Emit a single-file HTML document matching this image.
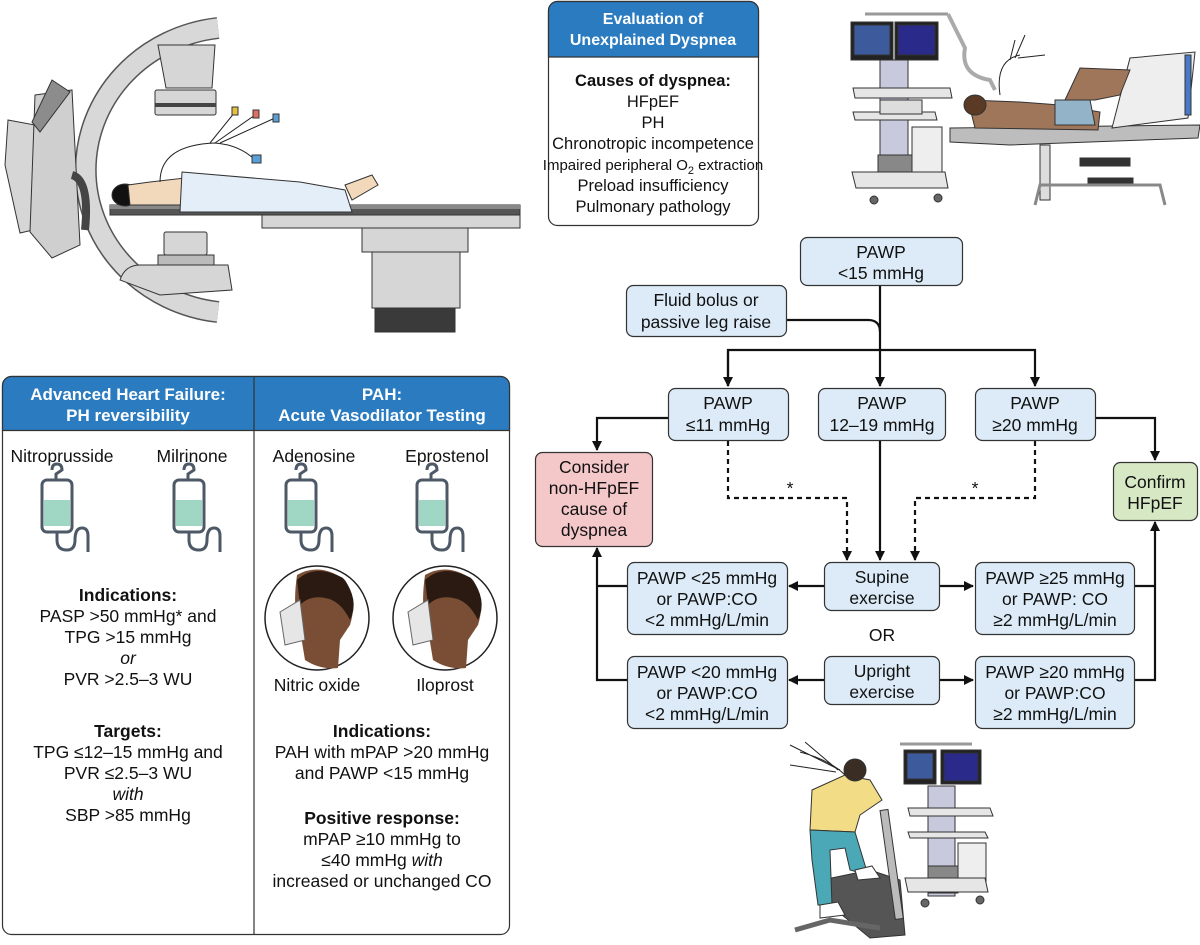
<!DOCTYPE html>
<html><head><meta charset="utf-8"><style>
html,body{margin:0;padding:0;background:#fff;}
svg{display:block;font-family:"Liberation Sans",sans-serif;}
</style></head><body>
<svg width="1200" height="945" viewBox="0 0 1200 945" xmlns="http://www.w3.org/2000/svg">
<defs>
<marker id="ah" markerWidth="10" markerHeight="10" refX="9" refY="5" orient="auto" markerUnits="userSpaceOnUse"><path d="M0,0 L10,5 L0,10 z" fill="#111"/></marker>
</defs>

<g stroke="#333" stroke-width="1">
<path d="M218,28 A150,143 0 0 0 218,312" fill="none" stroke="#555" stroke-width="22"/>
<path d="M218,28 A150,143 0 0 0 218,312" fill="none" stroke="#d8d8d8" stroke-width="19"/>
<polygon points="8,120 35,125 33,230 20,233 5,165" fill="#d6d6d6"/>
<polygon points="35,95 72,90 80,245 52,258 30,232" fill="#cfcfcf"/>
<polygon points="52,80 70,92 40,132 32,122" fill="#8c8c8c"/>
<path d="M72,175 Q90,180 85,230" fill="none" stroke="#444" stroke-width="8"/>
<polygon points="158,45 215,45 212,88 166,88" fill="#d6d6d6"/>
<rect x="155" y="90" width="61" height="25" rx="2" fill="#d6d6d6"/>
<rect x="155" y="103" width="61" height="4" fill="#444" stroke="none"/>
<rect x="164" y="232" width="43" height="23" rx="2" fill="#d6d6d6"/>
<rect x="158" y="255" width="56" height="10" fill="#bbb"/>
<path d="M120,280 Q125,265 140,265 L228,265 L232,290 L160,295 Z" fill="#d6d6d6"/>
<rect x="110" y="205" width="410" height="10" fill="#555"/>
<rect x="110" y="205" width="410" height="4" fill="#888" stroke="none"/>
<rect x="262" y="215" width="258" height="13" fill="#d6d6d6"/>
<rect x="362" y="228" width="106" height="24" fill="#d6d6d6"/>
<rect x="372" y="252" width="88" height="56" fill="#d6d6d6"/>
<rect x="375" y="308" width="80" height="24" fill="#3a3a3a"/>
<ellipse cx="125" cy="195" rx="13" ry="11" fill="#111"/>
<polygon points="128,185 150,182 185,178 185,205 130,205" fill="#f3d9bc"/>
<polygon points="182,172 300,182 345,190 352,212 180,212" fill="#e3eef8"/>
<polygon points="345,185 372,175 378,185 352,200" fill="#f3d9bc"/>
<path d="M160,182 Q160,145 215,143 Q240,145 255,160" fill="none" stroke="#222"/>
<path d="M210,143 L235,112 M215,143 L255,115 M220,143 L275,118" fill="none" stroke="#222"/>
<rect x="232" y="107" width="6" height="8" fill="#e8c040"/>
<rect x="253" y="110" width="6" height="8" fill="#e07060"/>
<rect x="273" y="114" width="6" height="8" fill="#5aa0d8"/>
<rect x="252" y="155" width="9" height="8" fill="#5aa0d8"/>
</g>

<g stroke="#333" stroke-width="1">
<line x1="865" y1="14" x2="948" y2="14" stroke="#999" stroke-width="3"/>
<path d="M948,14 L965,48 Q960,75 990,80 L995,90" fill="none" stroke="#aaa" stroke-width="4"/>
<rect x="851" y="22" width="42" height="38" fill="#222"/>
<rect x="854" y="25" width="36" height="30" fill="#3c5a9c"/>
<rect x="895" y="22" width="43" height="38" fill="#222"/>
<rect x="898" y="25" width="37" height="30" fill="#2a2a8a"/>
<rect x="880" y="60" width="28" height="100" fill="#c9c9dd"/>
<polygon points="853,88 950,88 952,98 855,98" fill="#e6e6e6"/>
<polygon points="853,112 935,112 937,120 855,120" fill="#e6e6e6"/>
<rect x="880" y="100" width="42" height="14" fill="#ddd"/>
<rect x="912" y="127" width="30" height="55" fill="#eee"/>
<rect x="878" y="155" width="34" height="27" fill="#888"/>
<polygon points="852,172 945,172 948,188 856,188" fill="#e6e6e6"/>
<circle cx="874" cy="200" r="4" fill="#666"/><circle cx="938" cy="198" r="4" fill="#666"/>
<polygon points="950,128 1200,125 1198,138 1010,145 950,142" fill="#bdbdbd"/>
<polygon points="1130,58 1195,52 1188,118 1112,128" fill="#eee"/>
<rect x="1185" y="55" width="6" height="60" fill="#4a78c8"/>
<polygon points="968,100 1020,102 1060,105 1100,112 1098,130 975,128" fill="#a0765a"/>
<polygon points="1055,100 1090,100 1095,125 1055,125" fill="#93b4c8"/>
<polygon points="1065,100 1080,68 1130,70 1120,95 1095,100" fill="#a0765a"/>
<ellipse cx="975" cy="105" rx="11" ry="10" fill="#5a3a24"/>
<rect x="1040" y="145" width="10" height="55" fill="#ddd"/>
<rect x="1080" y="158" width="50" height="8" fill="#333"/>
<rect x="1088" y="178" width="45" height="8" fill="#333"/>
<polyline points="1035,205 1040,185 1160,185 1165,205" fill="none" stroke="#888" stroke-width="3"/>
<path d="M1000,95 Q995,60 1020,55 M1010,60 L1015,40 M1015,58 L1025,35 M1018,58 L1045,55" fill="none" stroke="#222"/>
</g>

<g stroke="#333" stroke-width="1">
<line x1="900" y1="744" x2="972" y2="744" stroke="#999" stroke-width="3"/>
<rect x="904" y="750" width="32" height="34" fill="#222"/>
<rect x="907" y="753" width="26" height="26" fill="#3c5a9c"/>
<rect x="941" y="750" width="40" height="34" fill="#222"/>
<rect x="944" y="753" width="34" height="28" fill="#2a2a8a"/>
<rect x="928" y="786" width="27" height="110" fill="#c9c9dd"/>
<polygon points="908,808 990,808 993,816 910,816" fill="#e6e6e6"/>
<polygon points="908,832 985,832 988,838 910,838" fill="#e6e6e6"/>
<rect x="958" y="843" width="28" height="48" fill="#eee"/>
<rect x="928" y="866" width="30" height="27" fill="#888"/>
<polygon points="905,878 985,878 988,892 908,892" fill="#e6e6e6"/>
<circle cx="925" cy="903" r="4" fill="#666"/><circle cx="980" cy="900" r="4" fill="#666"/>
<polygon points="822,880 870,870 900,880 905,935 870,938 830,905" fill="#555"/>
<rect x="880" y="810" width="8" height="110" fill="#bbb" transform="rotate(-8 884 810)"/>
<polyline points="795,930 830,920 880,928" fill="none" stroke="#666" stroke-width="5"/>
<polygon points="812,790 845,775 870,780 882,800 860,815 855,832 810,830" fill="#f2dc85"/>
<polygon points="810,830 855,832 868,875 850,870 845,848 830,850 832,905 818,905 812,860" fill="#4ba8b6"/>
<ellipse cx="855" cy="770" rx="11" ry="11" fill="#3a2d24"/>
<polygon points="820,905 838,902 845,915 820,918" fill="#fff"/>
<polygon points="855,870 872,866 880,878 858,880" fill="#fff"/>
<path d="M845,775 Q830,760 800,752 M840,770 L790,745 M838,770 L805,742 M836,772 L790,765" fill="none" stroke="#222"/>
</g>

<rect x="548.5" y="1.5" width="210" height="224" rx="9" fill="#fff" stroke="#333" stroke-width="1.2"/>
<path d="M548.5,57 L548.5,10.5 A9,9 0 0 1 557.5,1.5 L749.5,1.5 A9,9 0 0 1 758.5,10.5 L758.5,57 Z" fill="#2a7bc0" stroke="#333" stroke-width="1.2"/>
<g font-size="16" font-weight="bold" fill="#fff" text-anchor="middle">
<text x="653" y="24">Evaluation of</text><text x="653" y="45">Unexplained Dyspnea</text></g>
<g font-size="16.5" fill="#111" text-anchor="middle">
<text x="653" y="86" font-weight="bold">Causes of dyspnea:</text>
<text x="653" y="107">HFpEF</text><text x="653" y="128">PH</text>
<text x="653" y="149">Chronotropic incompetence</text>
<text x="653" y="170" font-size="15">Impaired peripheral O<tspan font-size="11" dy="4">2</tspan><tspan dy="-4"> extraction</tspan></text>
<text x="653" y="191">Preload insufficiency</text>
<text x="653" y="212">Pulmonary pathology</text></g>

<g stroke="#111" stroke-width="2.2" fill="none">
<line x1="880" y1="285" x2="880" y2="386" marker-end="url(#ah)"/>
<path d="M786,320 L868,320 Q880,320 880,332"/>
<polyline points="728,386 728,350 1035,350 1035,386" marker-end="url(#ah)"/>
<line x1="728" y1="350" x2="728" y2="386" marker-end="url(#ah)"/>
<polyline points="668,418 597,418 597,450" marker-end="url(#ah)"/>
<polyline points="1095,418 1155,418 1155,460" marker-end="url(#ah)"/>
<line x1="880" y1="440" x2="880" y2="560" marker-end="url(#ah)"/>
<polyline points="728,441 728,498 847,498 847,560" stroke-dasharray="5,4" marker-end="url(#ah)"/>
<polyline points="1035,441 1035,498 915,498 915,560" stroke-dasharray="5,4" marker-end="url(#ah)"/>
<line x1="824" y1="586" x2="789" y2="586" marker-end="url(#ah)"/>
<line x1="939" y1="586" x2="973" y2="586" marker-end="url(#ah)"/>
<line x1="824" y1="680" x2="789" y2="680" marker-end="url(#ah)"/>
<line x1="939" y1="680" x2="973" y2="680" marker-end="url(#ah)"/>
<polyline points="627,680 597,680 597,548" marker-end="url(#ah)"/>
<line x1="627" y1="586" x2="597" y2="586"/>
<polyline points="1134,680 1155,680 1155,522" marker-end="url(#ah)"/>
<line x1="1134" y1="586" x2="1155" y2="586"/>
</g>
<g fill="#dcebf7" stroke="#333" stroke-width="1.2">
<rect x="800.5" y="237.5" width="162" height="48" rx="7"/>
<rect x="626.5" y="285.5" width="160" height="51" rx="7"/>
<rect x="668.5" y="388.5" width="120" height="52" rx="7"/>
<rect x="818.5" y="388.5" width="127" height="52" rx="7"/>
<rect x="975.5" y="388.5" width="120" height="52" rx="7"/>
<rect x="535.5" y="452.5" width="117" height="94" rx="7" fill="#f4c7c9"/>
<rect x="1113.5" y="462.5" width="84" height="58" rx="7" fill="#d6e8c4"/>
<rect x="824.5" y="562.5" width="115" height="48" rx="7"/>
<rect x="627.5" y="562.5" width="160" height="72" rx="7"/>
<rect x="975.5" y="562.5" width="159" height="72" rx="7"/>
<rect x="824.5" y="656.5" width="115" height="48" rx="7"/>
<rect x="627.5" y="656.5" width="160" height="72" rx="7"/>
<rect x="975.5" y="656.5" width="159" height="72" rx="7"/>
</g>
<g font-size="17.5" fill="#111" text-anchor="middle">
<text x="881" y="258">PAWP</text><text x="881" y="279">&lt;15 mmHg</text>
<text x="706" y="306">Fluid bolus or</text><text x="706" y="328">passive leg raise</text>
<text x="728" y="409">PAWP</text><text x="728" y="431">≤11 mmHg</text>
<text x="882" y="409">PAWP</text><text x="882" y="431">12–19 mmHg</text>
<text x="1035" y="409">PAWP</text><text x="1035" y="431">≥20 mmHg</text>
<text x="594" y="473">Consider</text><text x="594" y="494">non-HFpEF</text><text x="594" y="515">cause of</text><text x="594" y="536">dyspnea</text>
<text x="1155" y="488">Confirm</text><text x="1155" y="509">HFpEF</text>
<text x="790" y="494">*</text><text x="975" y="494">*</text>
<text x="882" y="583">Supine</text><text x="882" y="604">exercise</text>
<text x="707" y="584">PAWP &lt;25 mmHg</text><text x="707" y="605">or PAWP:CO</text><text x="707" y="626">&lt;2 mmHg/L/min</text>
<text x="1055" y="584">PAWP ≥25 mmHg</text><text x="1055" y="605">or PAWP: CO</text><text x="1055" y="626">≥2 mmHg/L/min</text>
<text x="882" y="641">OR</text>
<text x="882" y="677">Upright</text><text x="882" y="698">exercise</text>
<text x="707" y="678">PAWP &lt;20 mmHg</text><text x="707" y="699">or PAWP:CO</text><text x="707" y="720">&lt;2 mmHg/L/min</text>
<text x="1055" y="678">PAWP ≥20 mmHg</text><text x="1055" y="699">or PAWP:CO</text><text x="1055" y="720">≥2 mmHg/L/min</text>
</g>

<rect x="2.5" y="376.5" width="507" height="558" rx="9" fill="#fff" stroke="#333" stroke-width="1.2"/>
<path d="M2.5,430.5 L2.5,385.5 A9,9 0 0 1 11.5,376.5 L500.5,376.5 A9,9 0 0 1 509.5,385.5 L509.5,430.5 Z" fill="#2a7bc0" stroke="#333" stroke-width="1.2"/>
<line x1="254" y1="377" x2="254" y2="934" stroke="#333" stroke-width="1.2"/>
<g font-size="17" font-weight="bold" fill="#fff" text-anchor="middle">
<text x="128" y="400">Advanced Heart Failure:</text><text x="128" y="421">PH reversibility</text>
<text x="382" y="400">PAH:</text><text x="382" y="421">Acute Vasodilator Testing</text></g>

<g stroke="#4d5966" stroke-width="3" fill="none">
<g transform="translate(42,470)">
<path d="M10,0 Q10,-6 15,-6 Q20,-6 20,0 L14,4 L14,10"/>
<rect x="0" y="10" width="30" height="52" rx="5" fill="#fff"/>
<rect x="2" y="30" width="26" height="26" fill="#9fd6c4" stroke="none"/>
<path d="M15,62 L15,70 Q15,80 25,80 Q33,80 33,70 Q33,58 40,58 Q46,58 46,66 L46,82"/>
</g>
<g transform="translate(174,470)">
<path d="M10,0 Q10,-6 15,-6 Q20,-6 20,0 L14,4 L14,10"/>
<rect x="0" y="10" width="30" height="52" rx="5" fill="#fff"/>
<rect x="2" y="30" width="26" height="26" fill="#9fd6c4" stroke="none"/>
<path d="M15,62 L15,70 Q15,80 25,80 Q33,80 33,70 Q33,58 40,58 Q46,58 46,66 L46,82"/>
</g>
<g transform="translate(286,470)">
<path d="M10,0 Q10,-6 15,-6 Q20,-6 20,0 L14,4 L14,10"/>
<rect x="0" y="10" width="30" height="52" rx="5" fill="#fff"/>
<rect x="2" y="30" width="26" height="26" fill="#9fd6c4" stroke="none"/>
<path d="M15,62 L15,70 Q15,80 25,80 Q33,80 33,70 Q33,58 40,58 Q46,58 46,66 L46,82"/>
</g>
<g transform="translate(417,470)">
<path d="M10,0 Q10,-6 15,-6 Q20,-6 20,0 L14,4 L14,10"/>
<rect x="0" y="10" width="30" height="52" rx="5" fill="#fff"/>
<rect x="2" y="30" width="26" height="26" fill="#9fd6c4" stroke="none"/>
<path d="M15,62 L15,70 Q15,80 25,80 Q33,80 33,70 Q33,58 40,58 Q46,58 46,66 L46,82"/>
</g>
</g>

<g stroke="#222" stroke-width="1.5">
<circle cx="317" cy="618" r="52" fill="#fff"/>
<path d="M297,575 Q320,562 345,580 Q358,600 350,625 L340,640 L338,668 Q320,670 305,660 L300,630 Q292,610 297,575 Z" fill="#7a4e35" stroke="none"/>
<path d="M297,580 Q315,563 343,578 Q360,600 350,620 Q340,600 325,598 Q310,595 300,605 Z" fill="#2a1a12" stroke="none"/>
<polygon points="280,612 300,600 305,640 285,645" fill="#e6e6e6" stroke="#666" stroke-width="1"/>
<circle cx="445" cy="618" r="52" fill="#fff"/>
<path d="M425,575 Q448,562 473,580 Q486,600 478,625 L468,640 L466,668 Q448,670 433,660 L428,630 Q420,610 425,575 Z" fill="#7a4e35" stroke="none"/>
<path d="M425,580 Q443,563 471,578 Q488,600 478,620 Q468,600 453,598 Q438,595 428,605 Z" fill="#2a1a12" stroke="none"/>
<polygon points="408,612 428,600 433,640 413,645" fill="#e6e6e6" stroke="#666" stroke-width="1"/>
</g>

<g font-size="17.5" fill="#111" text-anchor="middle">
<text x="62" y="462">Nitroprusside</text><text x="192" y="462">Milrinone</text>
<text x="314" y="462">Adenosine</text><text x="447" y="462">Eprostenol</text>
<text x="317" y="691">Nitric oxide</text><text x="445" y="691">Iloprost</text>
<text x="128" y="601" font-weight="bold">Indications:</text>
<text x="128" y="622">PASP &gt;50 mmHg* and</text>
<text x="128" y="643">TPG &gt;15 mmHg</text>
<text x="128" y="664" font-style="italic">or</text>
<text x="128" y="685">PVR &gt;2.5–3 WU</text>
<text x="128" y="737" font-weight="bold">Targets:</text>
<text x="128" y="758">TPG ≤12–15 mmHg and</text>
<text x="128" y="779">PVR ≤2.5–3 WU</text>
<text x="128" y="800" font-style="italic">with</text>
<text x="128" y="821">SBP &gt;85 mmHg</text>
<text x="382" y="737" font-weight="bold">Indications:</text>
<text x="382" y="758">PAH with mPAP &gt;20 mmHg</text>
<text x="382" y="779">and PAWP &lt;15 mmHg</text>
<text x="382" y="824" font-weight="bold">Positive response:</text>
<text x="382" y="845">mPAP ≥10 mmHg to</text>
<text x="382" y="866">≤40 mmHg <tspan font-style="italic">with</tspan></text>
<text x="382" y="887">increased or unchanged CO</text>
</g>
</svg>
</body></html>
